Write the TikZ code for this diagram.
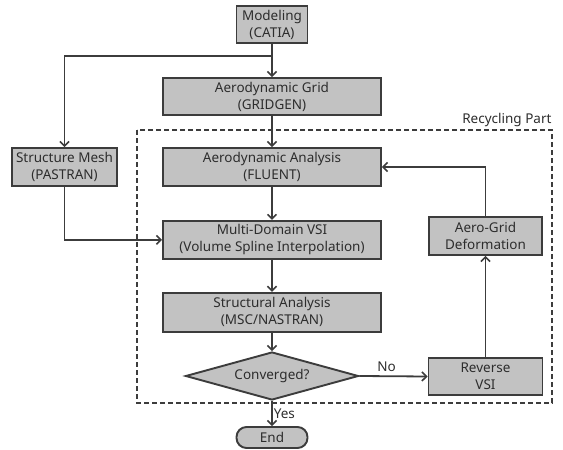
\documentclass[tikz,border=0pt]{standalone}
\usepackage{fontspec}
\setmainfont{Noto Sans}
\usetikzlibrary{positioning, arrows.meta, shapes.geometric}

\definecolor{boxfill}{RGB}{194,194,194}
\definecolor{edge}{RGB}{60,60,60}
\definecolor{ink}{RGB}{45,45,45}

\begin{document}
\begin{tikzpicture}[x=1pt, y=-1pt,
    proc/.style={draw=edge, line width=1.9pt, fill=boxfill, rectangle, inner sep=0pt,
                 align=center, text=ink, font=\fontsize{13.5}{17}\selectfont},
    lbl/.style={text=ink, font=\fontsize{13.5}{17}\selectfont},
    flow/.style={draw=edge, line width=1.8pt, -{Straight Barb[length=4.5pt, width=9pt, line width=1.6pt]}}]
    \useasboundingbox (0,0) rectangle (563,450);

    % Main column: CATIA down to NASTRAN
    \node[proc, minimum width=71pt, minimum height=37pt] (model) at (272,24.5) {Modeling\\(CATIA)};
    \node[proc, minimum width=218pt, minimum height=37pt] (grid) at (272,96.5) {Aerodynamic Grid\\(GRIDGEN)};
    \node[proc, minimum width=218pt, minimum height=38pt] (fluent) at (272,167) {Aerodynamic Analysis\\(FLUENT)};
    \node[proc, minimum width=218pt, minimum height=38pt, below=33pt of fluent] (vsi) {Multi-Domain VSI\\(Volume Spline Interpolation)};
    \node[proc, minimum width=218pt, minimum height=39pt, below=32pt of vsi] (nastran) {Structural Analysis\\(MSC/NASTRAN)};

    % Decision diamond and end
    \node[proc, diamond, aspect=3.6, minimum width=173pt, minimum height=48pt] (conv) at (272,376) {Converged?};
    \node[proc, rounded corners=10pt, minimum width=71pt, minimum height=21pt] (finish) at (272,437.5) {End};

    % Structure mesh (left) and feedback boxes (right)
    \node[proc, minimum width=105pt, minimum height=38pt] (mesh) at (64.5,167) {Structure Mesh\\(PASTRAN)};
    \node[proc, minimum width=114pt, minimum height=37pt] (reverse) at (485.5,376.5) {Reverse\\VSI};
    \node[proc, minimum width=113pt, minimum height=38pt] (deform) at (485.5,236) {Aero-Grid\\Deformation};

    % Recycling part frame
    \draw[edge, line width=1.5pt, dash pattern=on 5pt off 3pt] (137,130) rectangle (552,403);
    \node[lbl, anchor=east] (recyc) at (555,120) {Recycling Part};

    % Connectors
    \coordinate (split) at (272,56);
    \draw[flow] (model) -- (grid);
    \draw[flow] (split) -| (mesh.north);
    \draw[flow] (grid) -- (fluent);
    \draw[flow] (fluent) -- (vsi);
    \draw[flow] (vsi) -- (nastran);
    \draw[flow] (nastran) -- (conv);
    \draw[flow] (mesh.south) |- (vsi.west);
    \draw[flow] (conv.east) -- node[lbl, above, pos=0.4] {No} (reverse.west);
    \draw[flow] (conv.south) -- node[lbl, right, inner sep=1pt] {Yes} (finish.north);
    \draw[flow] (reverse) -- (deform);
    \draw[flow] (deform.north) |- (fluent.east);
\end{tikzpicture}
\end{document}
